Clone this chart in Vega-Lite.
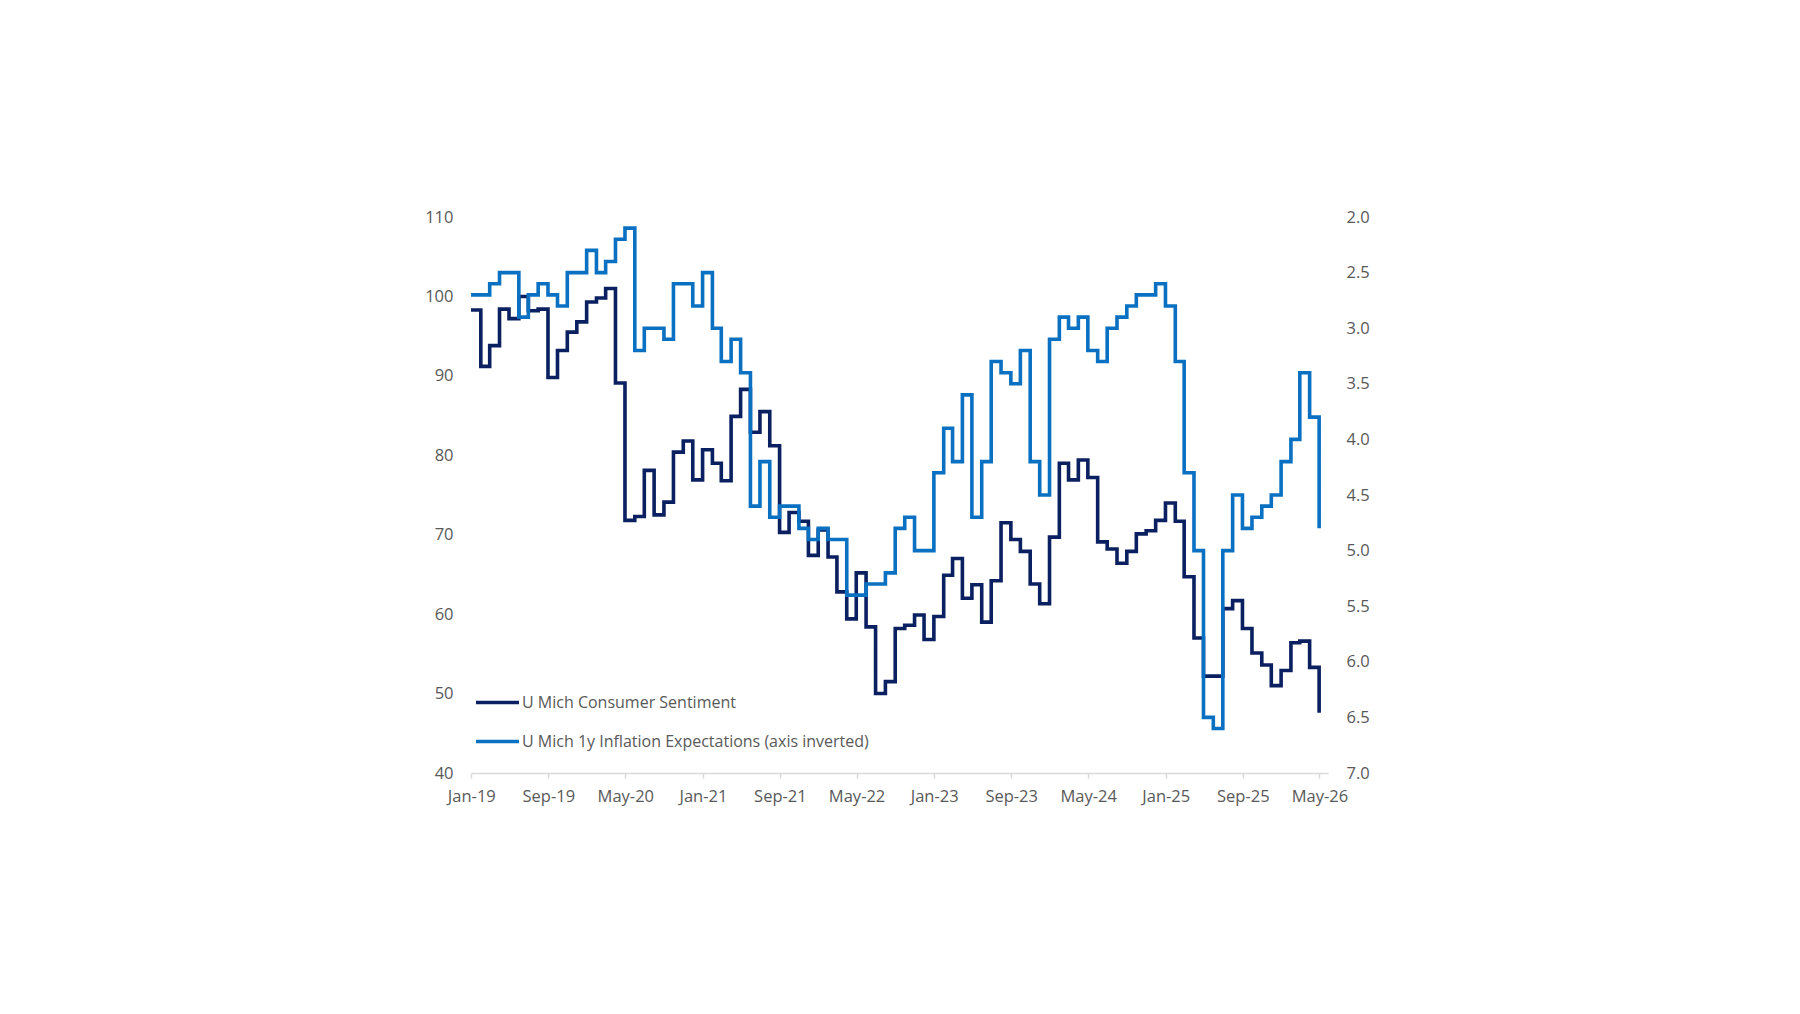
{
  "$schema": "https://vega.github.io/schema/vega-lite/v6.json",
  "autosize": {"type": "none"},
  "width": 857,
  "height": 556,
  "padding": {"left": 471, "top": 217, "right": 472, "bottom": 241},
  "background": "white",
  "config": {
    "view": {"stroke": null},
    "font": "Open Sans",
    "axis": {"labelFont": "Open Sans", "labelFontSize": 16.5, "labelColor": "#595959", "grid": false, "title": null}
  },
  "datasets": {
    "sent": [
      {"d": "2018-12-31", "v": 98.3},
      {"d": "2019-01-31", "v": 91.2}, {"d": "2019-02-28", "v": 93.8}, {"d": "2019-03-31", "v": 98.4}, {"d": "2019-04-30", "v": 97.2},
      {"d": "2019-05-31", "v": 100.0}, {"d": "2019-06-30", "v": 98.2}, {"d": "2019-07-31", "v": 98.4}, {"d": "2019-08-31", "v": 89.8},
      {"d": "2019-09-30", "v": 93.2}, {"d": "2019-10-31", "v": 95.5}, {"d": "2019-11-30", "v": 96.8}, {"d": "2019-12-31", "v": 99.3},
      {"d": "2020-01-31", "v": 99.8}, {"d": "2020-02-29", "v": 101.0}, {"d": "2020-03-31", "v": 89.1}, {"d": "2020-04-30", "v": 71.8},
      {"d": "2020-05-31", "v": 72.3}, {"d": "2020-06-30", "v": 78.1}, {"d": "2020-07-31", "v": 72.5}, {"d": "2020-08-31", "v": 74.1},
      {"d": "2020-09-30", "v": 80.4}, {"d": "2020-10-31", "v": 81.8}, {"d": "2020-11-30", "v": 76.9}, {"d": "2020-12-31", "v": 80.7},
      {"d": "2021-01-31", "v": 79.0}, {"d": "2021-02-28", "v": 76.8}, {"d": "2021-03-31", "v": 84.9}, {"d": "2021-04-30", "v": 88.3},
      {"d": "2021-05-31", "v": 82.9}, {"d": "2021-06-30", "v": 85.5}, {"d": "2021-07-31", "v": 81.2}, {"d": "2021-08-31", "v": 70.3},
      {"d": "2021-09-30", "v": 72.8}, {"d": "2021-10-31", "v": 71.7}, {"d": "2021-11-30", "v": 67.4}, {"d": "2021-12-31", "v": 70.6},
      {"d": "2022-01-31", "v": 67.2}, {"d": "2022-02-28", "v": 62.8}, {"d": "2022-03-31", "v": 59.4}, {"d": "2022-04-30", "v": 65.2},
      {"d": "2022-05-31", "v": 58.4}, {"d": "2022-06-30", "v": 50.0}, {"d": "2022-07-31", "v": 51.5}, {"d": "2022-08-31", "v": 58.2},
      {"d": "2022-09-30", "v": 58.6}, {"d": "2022-10-31", "v": 59.9}, {"d": "2022-11-30", "v": 56.8}, {"d": "2022-12-31", "v": 59.7},
      {"d": "2023-01-31", "v": 64.9}, {"d": "2023-02-28", "v": 67.0}, {"d": "2023-03-31", "v": 62.0}, {"d": "2023-04-30", "v": 63.7},
      {"d": "2023-05-31", "v": 59.0}, {"d": "2023-06-30", "v": 64.2}, {"d": "2023-07-31", "v": 71.5}, {"d": "2023-08-31", "v": 69.4},
      {"d": "2023-09-30", "v": 67.9}, {"d": "2023-10-31", "v": 63.8}, {"d": "2023-11-30", "v": 61.3}, {"d": "2023-12-31", "v": 69.7},
      {"d": "2024-01-31", "v": 79.0}, {"d": "2024-02-29", "v": 76.9}, {"d": "2024-03-31", "v": 79.4}, {"d": "2024-04-30", "v": 77.2},
      {"d": "2024-05-31", "v": 69.1}, {"d": "2024-06-30", "v": 68.2}, {"d": "2024-07-31", "v": 66.4}, {"d": "2024-08-31", "v": 67.9},
      {"d": "2024-09-30", "v": 70.1}, {"d": "2024-10-31", "v": 70.5}, {"d": "2024-11-30", "v": 71.8}, {"d": "2024-12-31", "v": 74.0},
      {"d": "2025-01-31", "v": 71.7}, {"d": "2025-02-28", "v": 64.7}, {"d": "2025-03-31", "v": 57.0}, {"d": "2025-04-30", "v": 52.2},
      {"d": "2025-05-31", "v": 52.2}, {"d": "2025-06-30", "v": 60.7}, {"d": "2025-07-31", "v": 61.7}, {"d": "2025-08-31", "v": 58.2},
      {"d": "2025-09-30", "v": 55.1}, {"d": "2025-10-31", "v": 53.6}, {"d": "2025-11-30", "v": 51.0}, {"d": "2025-12-31", "v": 52.9},
      {"d": "2026-01-31", "v": 56.4}, {"d": "2026-02-28", "v": 56.6}, {"d": "2026-03-31", "v": 53.3}, {"d": "2026-04-30", "v": 47.6}
    ],
    "infl": [
      {"d": "2018-12-31", "v": 2.7},
      {"d": "2019-01-31", "v": 2.7}, {"d": "2019-02-28", "v": 2.6}, {"d": "2019-03-31", "v": 2.5}, {"d": "2019-04-30", "v": 2.5},
      {"d": "2019-05-31", "v": 2.9}, {"d": "2019-06-30", "v": 2.7}, {"d": "2019-07-31", "v": 2.6}, {"d": "2019-08-31", "v": 2.7},
      {"d": "2019-09-30", "v": 2.8}, {"d": "2019-10-31", "v": 2.5}, {"d": "2019-11-30", "v": 2.5}, {"d": "2019-12-31", "v": 2.3},
      {"d": "2020-01-31", "v": 2.5}, {"d": "2020-02-29", "v": 2.4}, {"d": "2020-03-31", "v": 2.2}, {"d": "2020-04-30", "v": 2.1},
      {"d": "2020-05-31", "v": 3.2}, {"d": "2020-06-30", "v": 3.0}, {"d": "2020-07-31", "v": 3.0}, {"d": "2020-08-31", "v": 3.1},
      {"d": "2020-09-30", "v": 2.6}, {"d": "2020-10-31", "v": 2.6}, {"d": "2020-11-30", "v": 2.8}, {"d": "2020-12-31", "v": 2.5},
      {"d": "2021-01-31", "v": 3.0}, {"d": "2021-02-28", "v": 3.3}, {"d": "2021-03-31", "v": 3.1}, {"d": "2021-04-30", "v": 3.4},
      {"d": "2021-05-31", "v": 4.6}, {"d": "2021-06-30", "v": 4.2}, {"d": "2021-07-31", "v": 4.7}, {"d": "2021-08-31", "v": 4.6},
      {"d": "2021-09-30", "v": 4.6}, {"d": "2021-10-31", "v": 4.8}, {"d": "2021-11-30", "v": 4.9}, {"d": "2021-12-31", "v": 4.8},
      {"d": "2022-01-31", "v": 4.9}, {"d": "2022-02-28", "v": 4.9}, {"d": "2022-03-31", "v": 5.4}, {"d": "2022-04-30", "v": 5.4},
      {"d": "2022-05-31", "v": 5.3}, {"d": "2022-06-30", "v": 5.3}, {"d": "2022-07-31", "v": 5.2}, {"d": "2022-08-31", "v": 4.8},
      {"d": "2022-09-30", "v": 4.7}, {"d": "2022-10-31", "v": 5.0}, {"d": "2022-11-30", "v": 5.0}, {"d": "2022-12-31", "v": 4.3},
      {"d": "2023-01-31", "v": 3.9}, {"d": "2023-02-28", "v": 4.2}, {"d": "2023-03-31", "v": 3.6}, {"d": "2023-04-30", "v": 4.7},
      {"d": "2023-05-31", "v": 4.2}, {"d": "2023-06-30", "v": 3.3}, {"d": "2023-07-31", "v": 3.4}, {"d": "2023-08-31", "v": 3.5},
      {"d": "2023-09-30", "v": 3.2}, {"d": "2023-10-31", "v": 4.2}, {"d": "2023-11-30", "v": 4.5}, {"d": "2023-12-31", "v": 3.1},
      {"d": "2024-01-31", "v": 2.9}, {"d": "2024-02-29", "v": 3.0}, {"d": "2024-03-31", "v": 2.9}, {"d": "2024-04-30", "v": 3.2},
      {"d": "2024-05-31", "v": 3.3}, {"d": "2024-06-30", "v": 3.0}, {"d": "2024-07-31", "v": 2.9}, {"d": "2024-08-31", "v": 2.8},
      {"d": "2024-09-30", "v": 2.7}, {"d": "2024-10-31", "v": 2.7}, {"d": "2024-11-30", "v": 2.6}, {"d": "2024-12-31", "v": 2.8},
      {"d": "2025-01-31", "v": 3.3}, {"d": "2025-02-28", "v": 4.3}, {"d": "2025-03-31", "v": 5.0}, {"d": "2025-04-30", "v": 6.5},
      {"d": "2025-05-31", "v": 6.6}, {"d": "2025-06-30", "v": 5.0}, {"d": "2025-07-31", "v": 4.5}, {"d": "2025-08-31", "v": 4.8},
      {"d": "2025-09-30", "v": 4.7}, {"d": "2025-10-31", "v": 4.6}, {"d": "2025-11-30", "v": 4.5}, {"d": "2025-12-31", "v": 4.2},
      {"d": "2026-01-31", "v": 4.0}, {"d": "2026-02-28", "v": 3.4}, {"d": "2026-03-31", "v": 3.8}, {"d": "2026-04-30", "v": 4.8}
    ]
  },
  "encoding": {
    "x": {
      "field": "d", "type": "temporal",
      "scale": {"type": "utc", "domain": [{"year": 2018, "month": 12, "date": 31, "utc": true}, {"year": 2026, "month": 5, "date": 28, "utc": true}]},
      "axis": {
        "values": [
          {"year": 2019, "month": 1, "date": 1, "utc": true}, {"year": 2019, "month": 9, "date": 1, "utc": true},
          {"year": 2020, "month": 5, "date": 1, "utc": true}, {"year": 2021, "month": 1, "date": 1, "utc": true},
          {"year": 2021, "month": 9, "date": 1, "utc": true}, {"year": 2022, "month": 5, "date": 1, "utc": true},
          {"year": 2023, "month": 1, "date": 1, "utc": true}, {"year": 2023, "month": 9, "date": 1, "utc": true},
          {"year": 2024, "month": 5, "date": 1, "utc": true}, {"year": 2025, "month": 1, "date": 1, "utc": true},
          {"year": 2025, "month": 9, "date": 1, "utc": true}, {"year": 2026, "month": 5, "date": 1, "utc": true}
        ],
        "format": "%b-%y",
        "domain": true, "domainColor": "#d9d9d9", "domainWidth": 1.5,
        "ticks": true, "tickColor": "#d9d9d9", "tickSize": 5, "tickWidth": 1.5,
        "labelPadding": 10, "labelAngle": 0, "labelFlush": false, "labelOverlap": false
      }
    }
  },
  "layer": [
    {
      "data": {"name": "sent"},
      "mark": {"type": "line", "interpolate": "step-after", "strokeWidth": 3.6},
      "encoding": {
        "y": {
          "field": "v", "type": "quantitative",
          "scale": {"domain": [40, 110], "zero": false, "nice": false},
          "axis": {"orient": "left", "values": [40, 50, 60, 70, 80, 90, 100, 110], "domain": false, "ticks": false, "tickSize": 0, "labelPadding": 18}
        },
        "color": {
          "datum": "U Mich Consumer Sentiment", "type": "nominal",
          "scale": {
            "domain": ["U Mich Consumer Sentiment", "U Mich 1y Inflation Expectations (axis inverted)"],
            "range": ["#0a2060", "#0a70c2"]
          },
          "legend": {
            "title": null,
            "orient": "none",
            "legendX": 3,
            "legendY": 462,
            "padding": 0,
            "symbolType": "stroke",
            "symbolSize": 1850,
            "symbolStrokeWidth": 3.6,
            "labelFont": "Open Sans",
            "labelFontSize": 16,
            "labelColor": "#595959",
            "labelLimit": 0,
            "labelOffset": 1,
            "rowPadding": 7
          }
        }
      }
    },
    {
      "data": {"name": "infl"},
      "mark": {"type": "line", "interpolate": "step-after", "strokeWidth": 3.6},
      "encoding": {
        "y": {
          "field": "v", "type": "quantitative",
          "scale": {"domain": [2, 7], "reverse": true, "zero": false, "nice": false},
          "axis": {"orient": "right", "values": [2, 2.5, 3, 3.5, 4, 4.5, 5, 5.5, 6, 6.5, 7], "format": ".1f", "domain": false, "ticks": false, "tickSize": 0, "labelPadding": 18}
        },
        "color": {"datum": "U Mich 1y Inflation Expectations (axis inverted)", "type": "nominal"}
      }
    }
  ],
  "resolve": {"scale": {"y": "independent", "color": "shared"}}
}
